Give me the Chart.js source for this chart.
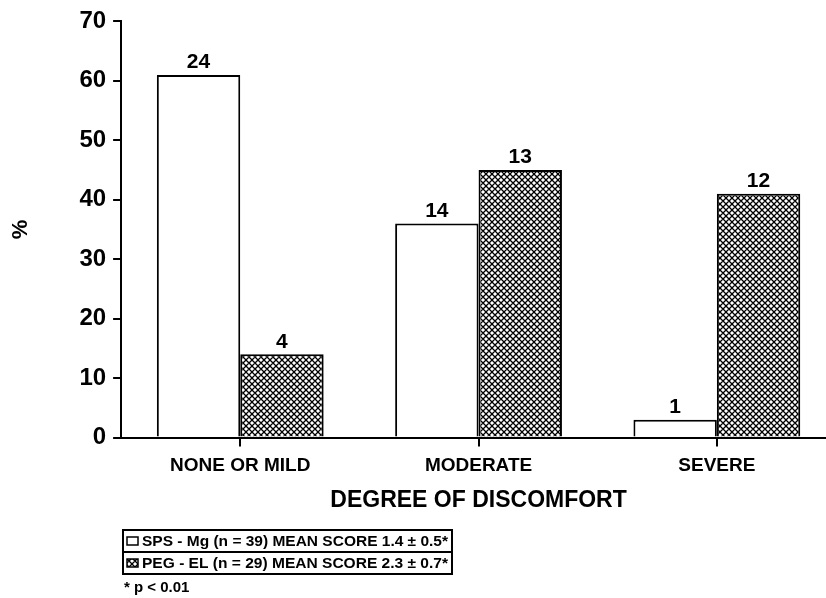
<!DOCTYPE html>
<html>
<head>
<meta charset="utf-8">
<script src="https://cdn.jsdelivr.net/npm/chart.js@4.4.1/dist/chart.umd.min.js"></script>
<style>
  html, body { margin: 0; padding: 0; background: #fff; overflow: hidden; }
  #wrap { width: 850px; height: 598px; }
</style>
</head>
<body>
<div id="wrap"><canvas id="chart"></canvas></div>
<script>
// data
var categories = ['NONE OR MILD', 'MODERATE', 'SEVERE']
var spsPercent = [61, 36, 3]
var pegPercent = [14, 45, 41]
var spsCounts = [24, 14, 1]
var pegCounts = [4, 13, 12]
var legendLabels = [
    'SPS - Mg (n = 39) MEAN SCORE 1.4 \u00b1 0.5*',
    'PEG - EL (n = 29) MEAN SCORE 2.3 \u00b1 0.7*'
]
var footnote = '* p < 0.01'

var FONT = '"Liberation Sans", Arial, sans-serif'

// cross hatch fill
function hatch() {
    var c = document.createElement('canvas')
    c.width = 6
    c.height = 6
    var g = c.getContext('2d')
    g.fillStyle = '#fff'
    g.fillRect(0, 0, 6, 6)
    g.strokeStyle = '#000'
    g.lineWidth = 1.3
    g.beginPath()
    g.moveTo(0, 0); g.lineTo(6, 6)
    g.moveTo(6, 0); g.lineTo(0, 6)
    g.moveTo(-3, 3); g.lineTo(3, 9)
    g.moveTo(3, -3); g.lineTo(9, 3)
    g.moveTo(9, 3); g.lineTo(3, 9)
    g.moveTo(3, -3); g.lineTo(-3, 3)
    g.stroke()
    return g.createPattern(c, 'repeat')
}

var ctx = document.getElementById('chart').getContext('2d')
var hatchFill = hatch()
var countsBySet = [spsCounts, pegCounts]

var countLabels = {
    id: 'countLabels',
    afterDatasetsDraw: function (chart) {
        var c = chart.ctx
        c.save()
        c.font = 'bold 21px ' + FONT
        c.fillStyle = '#000'
        c.textAlign = 'center'
        c.textBaseline = 'bottom'
        chart.data.datasets.forEach(function (ds, i) {
            chart.getDatasetMeta(i).data.forEach(function (bar, j) {
                c.fillText(String(countsBySet[i][j]), bar.x, bar.y - 2)
            })
        })
        c.restore()
    }
}

var legendBox = {
    id: 'legendBox',
    afterDraw: function (chart) {
        var c = chart.ctx
        var left = 123, right = 452, top = 530, rowH = 22
        c.save()
        c.strokeStyle = '#000'
        c.lineWidth = 2
        c.strokeRect(left, top, right - left, rowH * 2)
        c.beginPath()
        c.moveTo(left, top + rowH)
        c.lineTo(right, top + rowH)
        c.stroke()
        c.fillStyle = '#000'
        c.textBaseline = 'middle'
        c.textAlign = 'left'
        var fills = ['#fff', hatchFill]
        legendLabels.forEach(function (txt, i) {
            var cy = top + rowH * i + rowH / 2
            c.fillStyle = fills[i]
            c.fillRect(127, cy - 4, 11, 8)
            c.lineWidth = 1.5
            c.strokeRect(127, cy - 4, 11, 8)
            c.fillStyle = '#000'
            c.font = 'bold 15px ' + FONT
            var w = c.measureText(txt).width
            var target = 306
            c.save()
            c.translate(142, cy)
            c.scale(target / w, 1)
            c.fillText(txt, 0, 1)
            c.restore()
        })
        c.font = 'bold 15px ' + FONT
        c.fillText(footnote, 124, 588)
        c.restore()
    }
}

var myChart = new Chart(ctx, {
    type: 'bar',
    data: {
        labels: categories,
        datasets: [{
            label: legendLabels[0],
            data: spsPercent,
            backgroundColor: '#fff',
            borderColor: '#000',
            borderWidth: 2
        }, {
            label: legendLabels[1],
            data: pegPercent,
            backgroundColor: hatchFill,
            borderColor: '#000',
            borderWidth: 2
        }]
    },
    options: {
        responsive: true,
        maintainAspectRatio: false,
        animation: false,
        layout: { padding: { top: 0, right: 14, bottom: 84, left: 8 } },
        plugins: {
            legend: { display: false },
            tooltip: { enabled: false }
        },
        datasets: {
            bar: { barPercentage: 1, categoryPercentage: 0.7 }
        },
        scales: {
            x: {
                grid: {
                    offset: false,
                    drawOnChartArea: false,
                    color: '#000',
                    lineWidth: 2,
                    tickLength: 9
                },
                border: { color: '#000', width: 2 },
                ticks: {
                    color: '#000',
                    padding: 8,
                    font: { family: FONT, weight: 'bold', size: 19 }
                },
                title: {
                    display: true,
                    text: 'DEGREE OF DISCOMFORT',
                    color: '#000',
                    padding: { top: 1, bottom: 0 },
                    font: { family: FONT, weight: 'bold', size: 23 }
                }
            },
            y: {
                min: 0,
                max: 70,
                ticks: {
                    stepSize: 10,
                    color: '#000',
                    padding: 7,
                    font: { family: FONT, weight: 'bold', size: 24 }
                },
                grid: {
                    drawOnChartArea: false,
                    color: '#000',
                    lineWidth: 2,
                    tickLength: 8
                },
                border: { color: '#000', width: 2 },
                title: {
                    display: true,
                    text: '%',
                    color: '#000',
                    padding: { top: 0, bottom: 38 },
                    font: { family: FONT, weight: 'bold', size: 22 }
                }
            }
        }
    },
    plugins: [countLabels, legendBox]
});
</script>
</body>
</html>
